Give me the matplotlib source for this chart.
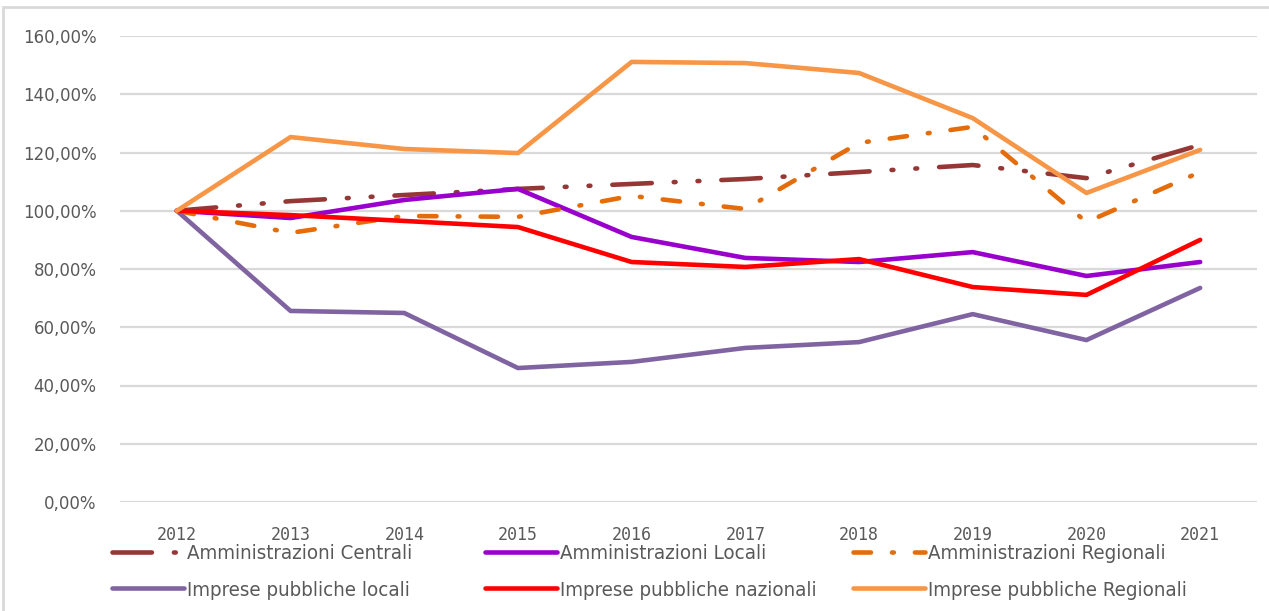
import matplotlib
matplotlib.use("Agg")
import matplotlib.pyplot as plt
from matplotlib.patches import Rectangle

# anni e serie (indice 2012 = 100%)
anni = ['2012', '2013', '2014', '2015', '2016', '2017', '2018', '2019', '2020', '2021']

amm_centrali = [100.0, 103.3, 105.4, 107.5, 109.2, 110.9, 113.3, 115.7, 111.2, 122.6]
amm_locali = [100.0, 97.5, 103.7, 107.5, 91.0, 83.8, 82.4, 85.8, 77.6, 82.4]
amm_regionali = [100.0, 92.4, 98.2, 97.9, 105.1, 100.6, 123.3, 128.8, 96.1, 113.3]
imp_locali = [100.0, 65.6, 64.9, 46.0, 48.1, 52.9, 54.9, 64.5, 55.6, 73.5]
imp_nazionali = [100.0, 98.5, 96.5, 94.4, 82.4, 80.7, 83.4, 73.8, 71.1, 90.0]
imp_regionali = [100.0, 125.3, 121.2, 119.8, 151.1, 150.7, 147.3, 131.8, 106.1, 120.9]

y_ticks = [0, 20, 40, 60, 80, 100, 120, 140, 160]

grigio = '#595959'
lw = 3.3

fig = plt.figure(figsize=(12.69, 6.11), dpi=100)
ax = fig.add_axes([120 / 1269, (611 - 502) / 611, 1137 / 1269, 466 / 611])

x = list(range(len(anni)))
serie = [
    ('Amministrazioni Centrali', amm_centrali, '#953735', (8.6, 4.8, 0.4, 4.8, 0.4, 4.8)),
    ('Amministrazioni Locali', amm_locali, '#9900CC', None),
    ('Amministrazioni Regionali', amm_regionali, '#E46C0A', (3.8, 4.6, 0.4, 4.6)),
    ('Imprese pubbliche locali', imp_locali, '#8064A2', None),
    ('Imprese pubbliche nazionali', imp_nazionali, '#FF0000', None),
    ('Imprese pubbliche Regionali', imp_regionali, '#F79646', None),
]

linee = []
for nome, valori, colore, tratteggio in serie:
    ln, = ax.plot(x, valori, color=colore, lw=lw, label=nome,
                  solid_capstyle='round', dash_capstyle='round',
                  solid_joinstyle='round', zorder=3)
    if tratteggio is not None:
        ln.set_dashes(tratteggio)
    linee.append(ln)

ax.set_xlim(-0.5, len(anni) - 0.5)
ax.set_ylim(0, 160)
ax.set_yticks(y_ticks)
ax.set_yticklabels(['{:.2f}%'.format(v).replace('.', ',') for v in y_ticks],
                   fontsize=12, color=grigio, family='DejaVu Sans')
ax.set_xticks(x)
ax.set_xticklabels(anni, fontsize=12, color=grigio, family='DejaVu Sans Mono')
ax.tick_params(axis='both', length=0)
ax.tick_params(axis='y', pad=17)
ax.tick_params(axis='x', pad=17)
ax.grid(axis='y', color='#D9D9D9', lw=1.6, zorder=0)
for s in ax.spines.values():
    s.set_visible(False)

# legenda su tre colonne
font_leg = {'family': ['DejaVu Sans'], 'stretch': 'condensed', 'size': 14.7}
colonne = [(0, 3), (1, 4), (2, 5)]
x_col = [104, 477, 845]
for (a, b), xc in zip(colonne, x_col):
    leg = fig.legend([linee[a], linee[b]], [serie[a][0], serie[b][0]],
                     loc='upper left', bbox_to_anchor=(xc / 1269, 1 - 536 / 611),
                     frameon=False, prop=font_leg, handlelength=3.5,
                     handletextpad=0.15, labelspacing=0.85, borderaxespad=0)
    for t in leg.get_texts():
        t.set_color(grigio)

# cornice grigia
fig.patches.append(Rectangle((3 / 1269, -0.01), 1.1, 1 - 7 / 611 + 0.01,
                             transform=fig.transFigure, fill=False,
                             edgecolor='#D9D9D9', lw=2))

fig.savefig('out.png', dpi=100)
